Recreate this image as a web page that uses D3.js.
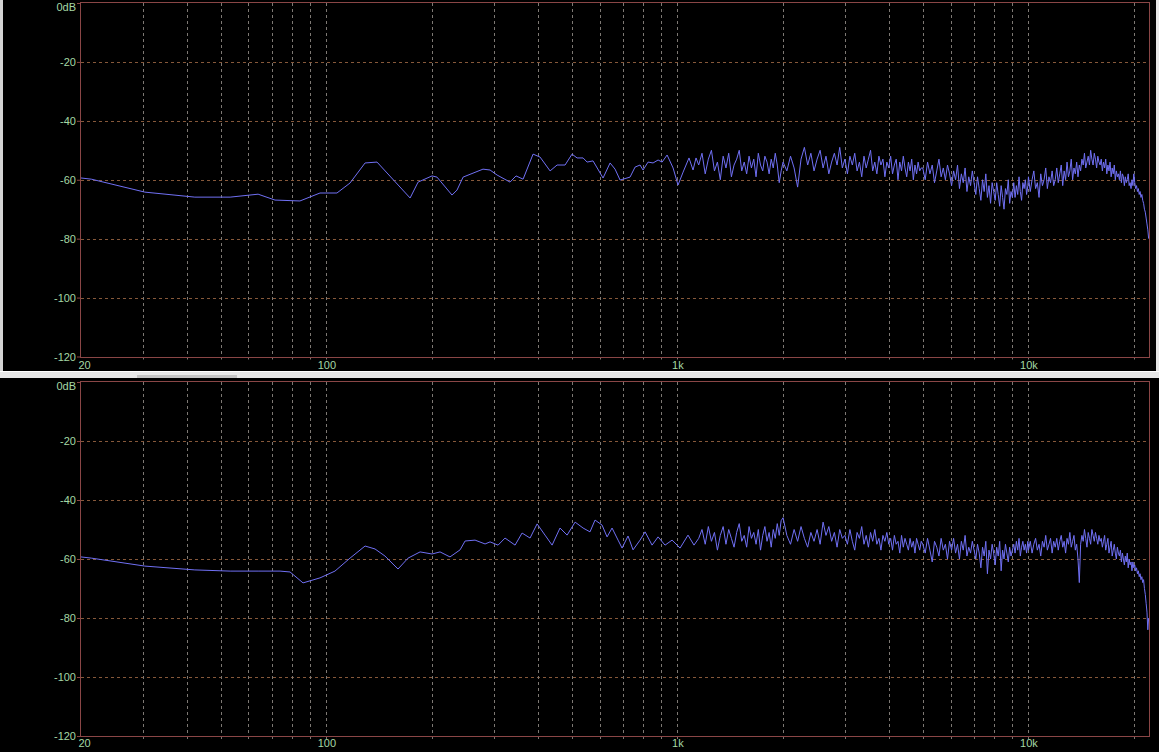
<!DOCTYPE html>
<html><head><meta charset="utf-8">
<script src="https://cdn.jsdelivr.net/npm/d3@7"></script>
<style>html,body{margin:0;padding:0;background:#000;overflow:hidden}svg{display:block}</style>
</head><body>
<svg id="chart" width="1159" height="752"></svg>
<script>
// ---------- axis data ----------
const yTicks = [0, -20, -40, -60, -80, -100, -120];
const yTickLabels = ["0dB", "-20", "-40", "-60", "-80", "-100", "-120"];
const xGridValues = [20, 30, 40, 50, 60, 70, 80, 90, 100, 200, 300, 400, 500, 600, 700, 800, 900,
  1000, 2000, 3000, 4000, 5000, 6000, 7000, 8000, 9000, 10000, 20000];
const xTickValues = [20, 100, 1000, 10000];
const xTickLabels = ["20", "100", "1k", "10k"];
const freqDomain = [20, 22050];

// ---------- top panel, low / mid frequencies ----------
const topFreqLF = [20, 21.4, 30.4, 42.2, 53.2, 63.9, 71.4, 84.1, 95.9, 107.2, 116.8, 128.9, 139.4, 173.2,
  182.5, 200, 206.6, 228, 235.6, 245.2, 279.4, 292.6, 306.4, 333.6, 347, 363.4, 388, 406.2, 433.8, 454.2,
  478.6, 501, 517.8, 538.6, 553, 575, 614, 643, 664.4, 686.6, 733, 757.4, 782.8, 798.2, 825, 852.4, 881,
  904.4, 934.6, 972, 1004, 1038, 1079, 1108, 1130];
const topDbLF = [-59.4, -59.8, -64.2, -65.9, -65.9, -64.9, -66.9, -67.2, -64.5, -64.5, -61.1, -54.3, -54.0, -66.2,
  -60.8, -58.7, -59.1, -65.2, -63.5, -59.1, -56.4, -56.7, -58.4, -60.8, -58.7, -59.8, -51.3, -52.3, -57.0, -55.0,
  -55.0, -51.3, -52.6, -52.6, -54.0, -53.6, -59.4, -54.3, -56.4, -60.1, -59.1, -55.7, -55.0, -56.7, -54.0, -54.3, -53.3,
  -54.0, -51.6, -56.0, -61.8, -57.4, -52.6, -56.7, -52.6];

// ---------- bottom panel, low / mid frequencies ----------
const bottomFreqLF = [20, 21.4, 30.4, 42.2, 53.2, 63.9, 73.8, 78.8, 85.8, 95.9, 105.8, 116.8, 128.9, 137.6, 146.9,
  160, 170.9, 184.9, 200, 210.8, 225, 240.4, 248.4, 265.2, 283.2, 292.6, 308.4, 322.8, 344.8, 361, 380.4, 398.4,
  419.6, 439.6, 463, 485, 511.2, 538.6, 563.6, 582.6, 610, 630.4, 651.4, 677.6, 695.6, 723.4, 747.6, 782.8, 809,
  847, 881, 922.2, 965.6, 1017.6, 1072, 1115];
const bottomDbLF = [-59.3, -59.7, -62.4, -63.7, -64.1, -64.1, -64.1, -64.4, -68.1, -66.4, -64.1, -59.7, -55.6, -56.6, -59.0,
  -63.4, -59.7, -57.6, -58.3, -57.6, -59.3, -56.9, -53.9, -53.6, -54.9, -54.2, -55.3, -52.9, -55.3, -51.2, -52.9, -48.1,
  -51.9, -55.3, -49.5, -51.9, -47.5, -49.5, -50.8, -46.8, -48.5, -52.5, -49.5, -53.6, -56.3, -52.2, -56.9, -53.6, -50.8,
  -55.3, -52.5, -55.3, -53.6, -56.3, -51.9, -55.3];

// ---------- high frequency region (shared frequency list) ----------
const hfFreq = [
  1150, 1175, 1200, 1225, 1250, 1275, 1300, 1325, 1350, 1375, 1400, 1425, 1450, 1475, 1500, 1525, 1550, 1575, 1600, 1625,
  1650, 1675, 1700, 1725, 1750, 1775, 1800, 1825, 1850, 1875, 1900, 1925, 1950, 1975,
  2000, 2050, 2100, 2150, 2200, 2250, 2300, 2350, 2400, 2450, 2500, 2550, 2600, 2650, 2700, 2750, 2800, 2850, 2900, 2950,
  3000, 3050, 3100, 3150, 3200, 3250, 3300, 3350, 3400, 3450, 3500, 3550, 3600, 3650, 3700, 3750, 3800, 3850, 3900, 3950,
  4000, 4050, 4100, 4150, 4200, 4250, 4300, 4350, 4400, 4450, 4500, 4550, 4600, 4650, 4700, 4750, 4800, 4850, 4900, 4950,
  5000, 5080, 5160, 5240, 5320, 5400, 5480, 5560, 5640, 5720, 5800, 5880, 5960, 6040, 6120, 6200, 6280, 6360, 6440, 6520,
  6600, 6680, 6760, 6840, 6920, 7000, 7080, 7160, 7240, 7320, 7400, 7480, 7560, 7640, 7720, 7800, 7880, 7960, 8040, 8120,
  8200, 8280, 8360, 8440, 8520, 8600, 8680, 8760, 8840, 8920, 9000, 9080, 9160, 9240, 9320, 9400, 9480, 9560, 9640, 9720,
  9800, 9880, 9960,
  10000, 10120, 10240, 10360, 10480, 10600, 10720, 10840, 10960, 11080, 11200, 11320, 11440, 11560, 11680, 11800, 11920,
  12040, 12160, 12280, 12400, 12520, 12640, 12760, 12880, 13000, 13120, 13240, 13360, 13480, 13600, 13720, 13840, 13960,
  14080, 14200, 14320, 14440, 14560, 14680, 14800, 14920, 15040, 15160, 15280, 15400, 15520, 15640, 15760, 15880, 16000,
  16120, 16240, 16360, 16480, 16600, 16720, 16840, 16960, 17080, 17200, 17320, 17440, 17560, 17680, 17800, 17920, 18040,
  18160, 18280, 18400, 18520, 18640, 18760, 18880, 19000, 19120, 19240, 19360, 19480, 19600, 19720, 19840, 19960, 20080,
  20200, 20320, 20440, 20560, 20680, 20800, 20920, 21040, 21160, 21280, 21400, 21520, 21640, 21760, 21880, 22000];

const topDbHF = [
  -55, -51, -58, -53, -50, -57, -54, -60, -52, -56, -51, -59, -55, -53, -50, -57, -54, -58, -52, -56,
  -53, -59, -51, -55, -57, -52, -54, -58, -53, -56, -51, -55, -61, -57,
  -54, -57, -52, -56, -62.5, -53, -49, -55, -51, -57, -53, -50, -56, -52, -58, -54, -51, -55, -49, -56,
  -53, -58, -52, -55, -51, -57, -54, -59, -52, -56, -53, -50, -57, -54, -58, -52, -55, -53, -59, -54,
  -56, -52, -58, -55, -53, -60, -54, -57, -52, -56, -59, -54, -57, -53, -60, -55, -58, -54, -57, -56,
  -56, -60, -54, -58, -55, -61, -57, -53, -59, -56, -60, -55, -58, -62, -57, -60, -55, -63, -58, -61,
  -56, -64, -59, -62, -57, -61, -65, -59, -63, -67, -60, -64, -58, -66, -62, -68, -61, -64, -67, -61,
  -65, -69, -62, -66, -70, -63, -65, -60, -68, -64, -66, -61, -66, -62, -65, -59, -64, -67, -61, -63,
  -60, -65, -62,
  -59, -64, -60, -57, -63, -61, -66, -58, -62, -60, -56, -63, -59, -61, -57, -62, -60,
  -56, -61, -58, -55, -62, -57, -60, -54, -59, -57, -53, -60, -56, -58, -54, -59, -55,
  -57, -53, -55, -51, -56, -54, -52, -55, -50, -53, -55, -51, -53, -56, -52, -54, -55,
  -53, -57, -54, -56, -53, -58, -55, -57, -54, -59, -56, -58, -55, -60, -57, -59, -58,
  -60, -57, -61, -58, -59, -62, -59, -61, -60, -58, -62, -61, -63, -60, -62, -58, -61,
  -63, -62, -64, -63, -65, -64, -66, -65, -67, -68, -70, -71, -73, -75, -77, -80];

const bottomDbHF = [
  -53, -50, -55, -49, -54, -51, -57, -52, -49, -55, -50, -53, -56, -51, -48, -54, -52, -56, -49, -53,
  -51, -55, -50, -57, -52, -49, -54, -51, -56, -50, -53, -48, -52, -47,
  -46, -52, -55, -50, -54, -49, -53, -56, -51, -54, -50, -55, -47.5, -52, -49, -54, -51, -56, -50, -53,
  -52, -55, -50, -54, -57, -51, -53, -49, -55, -52, -56, -51, -54, -50, -55, -53, -57, -52, -54, -51,
  -55, -53, -57, -52, -55, -54, -58, -52, -56, -53, -55, -57, -53, -56, -54, -58, -53, -55, -57, -54,
  -55, -58, -53, -57, -61, -54, -56, -59, -53, -57, -55, -60, -54, -57, -53, -58, -55, -60, -54, -57,
  -52, -59, -56, -58, -54, -57, -60, -55, -58, -63, -56, -59, -54, -65, -57, -60, -55, -58, -62, -56,
  -59, -54, -64, -57, -60, -55, -58, -61, -56, -59, -57, -55, -58, -54, -57, -53, -59, -56, -54, -57,
  -55, -58, -54,
  -57, -54, -58, -55, -53, -57, -55, -59, -54, -56, -52, -57, -55, -53, -58, -54, -56,
  -53, -57, -54, -52, -56, -54, -58, -53, -55, -51, -56, -54, -52, -57, -55, -60, -68,
  -55, -52, -54, -50, -53, -56, -51, -53, -55, -50, -52, -54, -51, -53, -55, -52, -54,
  -53, -56, -54, -52, -57, -55, -53, -58, -56, -54, -59, -57, -55, -58, -60, -56, -58,
  -59, -57, -61, -58, -60, -62, -59, -61, -58, -63, -60, -62, -61, -64, -61, -63, -62,
  -64, -63, -65, -64, -66, -65, -67, -66, -68, -67, -70, -72, -75, -78, -84, -80];

// ---------- drawing ----------
const W = 1159, H = 752;
const svg = d3.select("#chart");
svg.append("rect").attr("x", 0).attr("y", 0).attr("width", W).attr("height", H).attr("fill", "#000");

// window chrome of the top panel
svg.append("rect").attr("x", 0).attr("y", 0).attr("width", 3).attr("height", 372).attr("fill", "#d4d4d4");
svg.append("rect").attr("x", 1156).attr("y", 0).attr("width", 3).attr("height", 372).attr("fill", "#e6e6e6");
svg.append("rect").attr("x", 0).attr("y", 371).attr("width", W).attr("height", 7).attr("fill", "#e8e8e8");
svg.append("rect").attr("x", 0).attr("y", 371).attr("width", W).attr("height", 1).attr("fill", "#ffffff");
svg.append("rect").attr("x", 137).attr("y", 375).attr("width", 100).attr("height", 3).attr("fill", "#c4c4c4");

const x = d3.scaleLog().domain(freqDomain).range([81, 1149]);

const frameColor = "#8a4646";
const vGridColor = "#7d7873";
const hGridColor = "#86583a";
const labelColor = "#a5d8a5";
const lineColor = "#7070f4";
const fontFamily = "'Liberation Sans', 'DejaVu Sans', sans-serif";

function zip(f, d) { return f.map((v, i) => [v, d[i]]); }

function drawPanel(id, top, bottom, freqLF, dbLF, dbHF, xLabelY) {
  const g = svg.append("g").attr("id", id);
  const y = d3.scaleLinear().domain([-120, 0]).range([bottom, top]);
  const left = x.range()[0], right = x.range()[1];

  // horizontal grid
  g.append("g").selectAll("line").data(yTicks.filter(v => v !== 0 && v !== -120)).join("line")
    .attr("x1", left).attr("x2", right)
    .attr("y1", d => Math.round(y(d)) + 0.5).attr("y2", d => Math.round(y(d)) + 0.5)
    .attr("stroke", hGridColor).attr("stroke-dasharray", "3,3").attr("stroke-width", 1);

  // vertical grid
  g.append("g").selectAll("line").data(xGridValues.filter(v => v !== 20)).join("line")
    .attr("x1", d => Math.round(x(d)) + 0.5).attr("x2", d => Math.round(x(d)) + 0.5)
    .attr("y1", top).attr("y2", bottom + 3)
    .attr("stroke", vGridColor).attr("stroke-dasharray", "3,3").attr("stroke-width", 1);

  // y axis (labels + small ticks)
  const yAxis = d3.axisLeft(y).tickValues(yTicks).tickSize(4).tickPadding(1)
    .tickFormat((d, i) => yTickLabels[i]);
  const ya = g.append("g").attr("transform", `translate(${left},0)`).call(yAxis);
  ya.select(".domain").remove();
  ya.selectAll(".tick line").attr("stroke", frameColor);
  ya.selectAll(".tick text").attr("fill", labelColor).attr("font-size", 11)
    .attr("font-family", fontFamily)
    .attr("dy", d => d === 0 ? "0.72em" : "0.34em");

  // x labels
  const xAxis = d3.axisBottom(x).tickValues(xTickValues).tickSize(0).tickPadding(0)
    .tickFormat((d, i) => xTickLabels[i]);
  const xa = g.append("g").attr("transform", `translate(0,${xLabelY})`).call(xAxis);
  xa.select(".domain").remove();
  xa.selectAll(".tick text").attr("fill", labelColor).attr("font-size", 11)
    .attr("font-family", fontFamily).attr("dy", "0")
    .attr("dx", d => d === 20 ? 3 : 0);

  // frame
  g.append("rect").attr("x", left - 0.5).attr("y", Math.round(top) - 0.5)
    .attr("width", right - left + 1).attr("height", Math.round(bottom) - Math.round(top) + 1)
    .attr("fill", "none").attr("stroke", frameColor).attr("stroke-width", 1);

  // response curve
  const data = zip(freqLF, dbLF).concat(zip(hfFreq, dbHF));
  const clipId = id + "-clip";
  svg.append("clipPath").attr("id", clipId).append("rect")
    .attr("x", left).attr("y", top).attr("width", right - left).attr("height", bottom - top);
  const line = d3.line().x(d => x(d[0])).y(d => y(d[1]));
  g.append("path").datum(data).attr("d", line).attr("clip-path", `url(#${clipId})`)
    .attr("fill", "none").attr("stroke", lineColor).attr("stroke-width", 1)
    .attr("stroke-linejoin", "round");
}

drawPanel("top", 3, 356.5, topFreqLF, topDbLF, topDbHF, 369);
drawPanel("bottom", 382, 736, bottomFreqLF, bottomDbLF, bottomDbHF, 747);
</script>
</body></html>
